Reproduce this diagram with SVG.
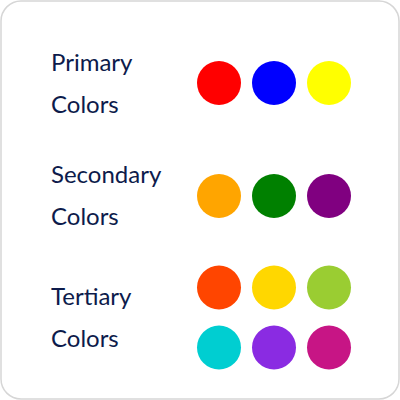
<svg xmlns="http://www.w3.org/2000/svg" width="400" height="400" viewBox="0 0 400 400">
<style>
.lbl{font-family:"Lato","Noto Sans","DejaVu Sans",sans-serif;font-size:24px;fill:#0d1b4b;}
</style>
<rect x="1" y="1" width="398" height="398" rx="20" ry="20" fill="#ffffff" stroke="#d6d6d6" stroke-width="1.5"/>
<g id="primary">
<text class="lbl" x="51" y="71">Primary</text>
<text class="lbl" x="51" y="113">Colors</text>
<circle cx="219" cy="83" r="22" fill="#ff0000"/>
<circle cx="274" cy="83" r="22" fill="#0000ff"/>
<circle cx="329" cy="83" r="22" fill="#ffff00"/>
</g>
<g id="secondary">
<text class="lbl" x="51" y="183">Secondary</text>
<text class="lbl" x="51" y="225">Colors</text>
<circle cx="219" cy="196" r="22" fill="#ffa500"/>
<circle cx="274" cy="196" r="22" fill="#008000"/>
<circle cx="329" cy="196" r="22" fill="#800080"/>
</g>
<g id="tertiary">
<text class="lbl" x="51" y="305">Tertiary</text>
<text class="lbl" x="51" y="347">Colors</text>
<circle cx="219" cy="287.5" r="22" fill="#ff4500"/>
<circle cx="274" cy="287.5" r="22" fill="#ffd700"/>
<circle cx="329" cy="287.5" r="22" fill="#9acd32"/>
<circle cx="219" cy="347.5" r="22" fill="#00ced1"/>
<circle cx="274" cy="347.5" r="22" fill="#8a2be2"/>
<circle cx="329" cy="347.5" r="22" fill="#c71585"/>
</g>
</svg>
